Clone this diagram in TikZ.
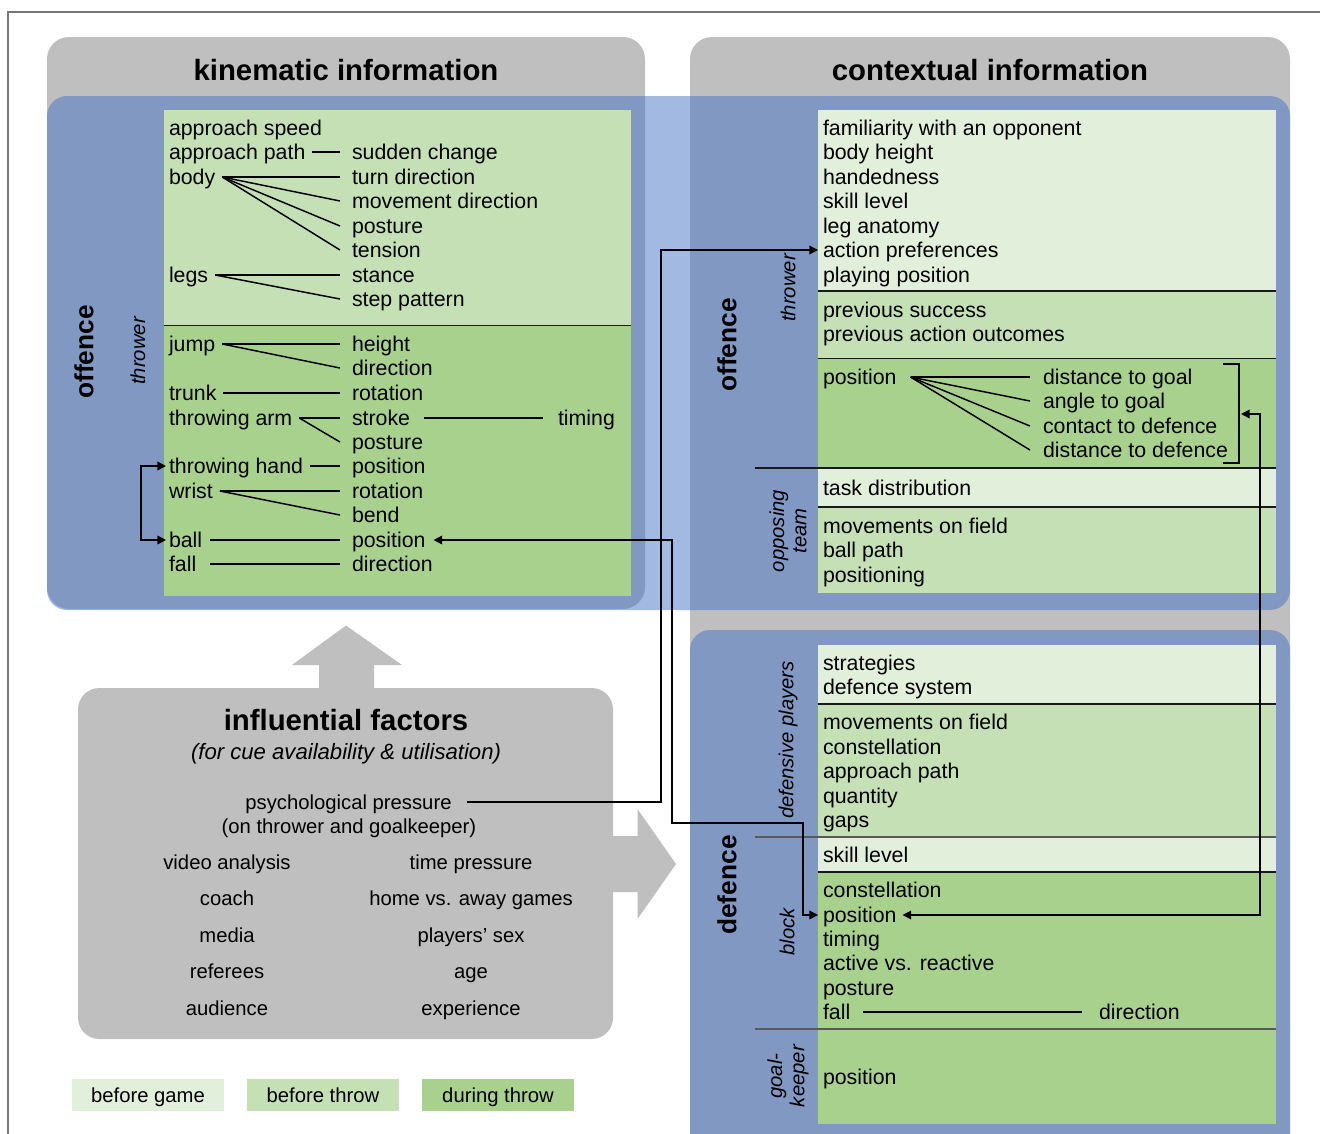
\documentclass[tikz,border=0pt]{standalone}
\usepackage{fontspec}
\setmainfont{Liberation Sans}
\usetikzlibrary{arrows.meta,calc}

\definecolor{pgrey}{RGB}{191,191,191}
\definecolor{gA}{RGB}{226,239,218}
\definecolor{gB}{RGB}{197,224,180}
\definecolor{gC}{RGB}{169,209,142}
\definecolor{bandblue}{RGB}{69,115,197}
\definecolor{framegrey}{RGB}{120,120,120}

\newcommand\fbody{\fontsize{16}{19}\selectfont}
\newcommand\ffac{\fontsize{15.2}{18}\selectfont}
\newcommand\ftitle{\fontsize{22}{26}\selectfont\bfseries}
\newcommand\fside{\fontsize{19.7}{23}\selectfont\bfseries}
\newcommand\fsub{\fontsize{15.2}{16.8}\selectfont\itshape}
\newcommand\fparen{\fontsize{16.6}{20}\selectfont\itshape}

\tikzset{
  txt/.style={anchor=west, inner sep=0pt, outer sep=0pt, text height=14pt, text depth=2.2pt, font=\fbody},
  fac/.style={anchor=center, inner sep=0pt, outer sep=0pt, text height=13.6pt, text depth=3pt, font=\ffac},
  link/.style={line width=1.1pt, black},
  arr/.style={link, -{Triangle[length=6.5pt,width=6.5pt]}},
  both/.style={link, {Triangle[length=6.5pt,width=6.5pt]}-{Triangle[length=6.5pt,width=6.5pt]}},
  sepline/.style={line width=1.4pt, black!90},
  thinsep/.style={line width=0.8pt, black!65},
  sidelbl/.style={rotate=90, font=\fside, inner sep=0pt},
  sublbl/.style={rotate=90, font=\fsub, inner sep=0pt, align=center},
  legendbox/.style={inner sep=0pt, minimum width=114pt, minimum height=24pt, text height=13.6pt, text depth=3pt, font=\ffac}
}

\begin{document}
\begin{tikzpicture}[x=0.75pt, y=-0.75pt]
\useasboundingbox (0,0) rectangle (1320,1133);

% frame
\draw[framegrey, line width=0.8pt] (8,1140) -- (8,12) -- (1330,12);

% grey panels
\fill[pgrey, rounded corners=16.5pt] (47,37) rectangle (645,609);
\fill[pgrey, rounded corners=16.5pt] (690,37) rectangle (1290,1180);

% blue bands
\fill[bandblue, fill opacity=0.5, rounded corners=15pt] (47,96) rectangle (1290,610);
\fill[bandblue, fill opacity=0.5, rounded corners=15pt] (690,630) rectangle (1290,1180);

% titles
\node[anchor=base, font=\ftitle, inner sep=0pt] (kin) at (346,80) {kinematic information};
\node[anchor=base, font=\ftitle, inner sep=0pt] (ctx) at (990,80) {contextual information};

% kinematic green boxes
\fill[gB] (164,110) rectangle (631,325.5);
\fill[gC] (164,325.5) rectangle (631,596);
\draw[sepline] (164,325.5) -- (631,325.5);

% contextual offence boxes
\fill[gA] (818,110) rectangle (1276,291);
\fill[gB] (818,291) rectangle (1276,358.5);
\fill[gC] (818,358.5) rectangle (1276,468);
\fill[gA] (818,468) rectangle (1276,507);
\fill[gB] (818,507) rectangle (1276,593);
\draw[sepline] (818,291) -- (1276,291);
\draw[sepline] (818,358.5) -- (1276,358.5);
\draw[sepline] (755,468) -- (1276,468);
\draw[sepline] (818,507) -- (1276,507);

% defence boxes
\fill[gA] (818,645) rectangle (1276,704);
\fill[gB] (818,704) rectangle (1276,837);
\fill[gA] (818,837) rectangle (1276,872);
\fill[gC] (818,872) rectangle (1276,1124);
\draw[sepline] (818,704) -- (1276,704);
\draw[thinsep] (755,837) -- (1276,837);
\draw[sepline] (818,872) -- (1276,872);
\draw[thinsep] (755,1029) -- (1276,1029);

% side labels
\node[sidelbl] (off1) at (84,352) {offence};
\node[sublbl] (thr1) at (138,351) {thrower};
\node[sidelbl] (off2) at (727,345) {offence};
\node[sublbl] (thr2) at (788,288) {thrower};
\node[sublbl] (opp) at (788,531) {opposing\\team};
\node[sublbl] (dp) at (788,740) {defensive players};
\node[sidelbl] (def) at (727,885) {defence};
\node[sublbl] (blk) at (787,932) {block};
\node[sublbl] (gk) at (788,1076) {goal-\\keeper};

% kinematic texts
\node[txt] (k1) at (169,128) {approach speed};
\node[txt] (k2) at (169,152) {approach path};
\node[txt] (k2a) at (352,152) {sudden change};
\node[txt] (k3) at (169,177) {body};
\node[txt] (k3a) at (352,177) {turn direction};
\node[txt] (k3b) at (352,201) {movement direction};
\node[txt] (k3c) at (352,226) {posture};
\node[txt] (k3d) at (352,250) {tension};
\node[txt] (k4) at (169,275) {legs};
\node[txt] (k4a) at (352,275) {stance};
\node[txt] (k4b) at (352,299) {step pattern};
\node[txt] (k5) at (169,344) {jump};
\node[txt] (k5a) at (352,344) {height};
\node[txt] (k5b) at (352,368) {direction};
\node[txt] (k6) at (169,393) {trunk};
\node[txt] (k6a) at (352,393) {rotation};
\node[txt] (k7) at (169,418) {throwing arm};
\node[txt] (k7a) at (352,418) {stroke};
\node[txt] (k7b) at (352,442) {posture};
\node[txt] (k7c) at (558,418) {timing};
\node[txt] (k8) at (169,466) {throwing hand};
\node[txt] (k8a) at (352,466) {position};
\node[txt] (k9) at (169,491) {wrist};
\node[txt] (k9a) at (352,491) {rotation};
\node[txt] (k9b) at (352,515) {bend};
\node[txt] (k10) at (169,540) {ball};
\node[txt] (k10a) at (352,540) {position};
\node[txt] (k11) at (169,564) {fall};
\node[txt] (k11a) at (352,564) {direction};

% kinematic connectors
\draw[link] ($(k2.east)+(7,0)$) -- ($(k2a.west)+(-12,0)$);
\coordinate (k3o) at ($(k3.east)+(7,0)$);
\foreach \t in {k3a,k3b,k3c,k3d} \draw[link] (k3o) -- ($(\t.west)+(-12,0)$);
\coordinate (k4o) at ($(k4.east)+(7,0)$);
\foreach \t in {k4a,k4b} \draw[link] (k4o) -- ($(\t.west)+(-12,0)$);
\coordinate (k5o) at ($(k5.east)+(7,0)$);
\foreach \t in {k5a,k5b} \draw[link] (k5o) -- ($(\t.west)+(-12,0)$);
\draw[link] ($(k6.east)+(7,0)$) -- ($(k6a.west)+(-12,0)$);
\coordinate (k7o) at ($(k7.east)+(7,0)$);
\foreach \t in {k7a,k7b} \draw[link] (k7o) -- ($(\t.west)+(-12,0)$);
\draw[link] ($(k7a.east)+(14,0)$) -- ($(k7c.west)+(-15,0)$);
\draw[link] ($(k8.east)+(7,0)$) -- ($(k8a.west)+(-12,0)$);
\coordinate (k9o) at ($(k9.east)+(7,0)$);
\foreach \t in {k9a,k9b} \draw[link] (k9o) -- ($(\t.west)+(-12,0)$);
\draw[link] ($(k10.east)+(8,0)$) -- ($(k10a.west)+(-12,0)$);
\draw[link] ($(k11.east)+(14,0)$) -- ($(k11a.west)+(-12,0)$);
\draw[both] ($(k8.west)+(-3,0)$) -- ++(-25,0) |- ($(k10.west)+(-3,0)$);

% contextual offence texts
\node[txt] (c1) at (823,128) {familiarity with an opponent};
\node[txt] (c2) at (823,152) {body height};
\node[txt] (c3) at (823,177) {handedness};
\node[txt] (c4) at (823,201) {skill level};
\node[txt] (c5) at (823,226) {leg anatomy};
\node[txt] (c6) at (823,250) {action preferences};
\node[txt] (c7) at (823,275) {playing position};
\node[txt] (c8) at (823,310) {previous success};
\node[txt] (c9) at (823,334) {previous action outcomes};
\node[txt] (c10) at (823,377) {position};
\node[txt] (c10a) at (1043,377) {distance to goal};
\node[txt] (c10b) at (1043,401) {angle to goal};
\node[txt] (c10c) at (1043,426) {contact to defence};
\node[txt] (c10d) at (1043,450) {distance to defence};
\node[txt] (c11) at (823,488) {task distribution};
\node[txt] (c12) at (823,526) {movements on field};
\node[txt] (c13) at (823,550) {ball path};
\node[txt] (c14) at (823,575) {positioning};

\coordinate (c10o) at ($(c10.east)+(14,0)$);
\foreach \t in {c10a,c10b,c10c,c10d} \draw[link] (c10o) -- ($(\t.west)+(-13,0)$);
\draw[link] (1223,364) -- (1239,364) -- (1239,463) -- (1223,463);
\coordinate (brk) at (1241,414);

% defence texts
\node[txt] (d1) at (823,663) {strategies};
\node[txt] (d2) at (823,687) {defence system};
\node[txt] (d3) at (823,722) {movements on field};
\node[txt] (d4) at (823,747) {constellation};
\node[txt] (d5) at (823,771) {approach path};
\node[txt] (d6) at (823,796) {quantity};
\node[txt] (d7) at (823,820) {gaps};
\node[txt] (d8) at (823,855) {skill level};
\node[txt] (d9) at (823,890) {constellation};
\node[txt] (d10) at (823,915) {position};
\node[txt] (d11) at (823,939) {timing};
\node[txt] (d12) at (823,963) {active vs. reactive};
\node[txt] (d13) at (823,988) {posture};
\node[txt] (d14) at (823,1012) {fall};
\node[txt] (d14a) at (1099,1012) {direction};
\node[txt] (d15) at (823,1077) {position};
\draw[link] ($(d14.east)+(13,0)$) -- ($(d14a.west)+(-17,0)$);

% influential factors
\fill[pgrey, rounded corners=16pt] (78,688) rectangle (613,1039);
\fill[pgrey] (319,690) -- (319,665) -- (292,665) -- (346,625.5) -- (402,665) -- (374,665) -- (374,690) -- cycle;
\fill[pgrey] (610,836) -- (637.5,836) -- (637.5,809) -- (676,864) -- (637.5,919) -- (637.5,892) -- (610,892) -- cycle;
\node[anchor=base, font=\ftitle, inner sep=0pt] (inf) at (346,730) {influential factors};
\node[anchor=base, font=\fparen, inner sep=0pt] (infs) at (346,759) {(for cue availability \& utilisation)};
\node[fac] (psy) at (348.5,802) {psychological pressure};
\node[fac] (psyb) at (349,826) {(on thrower and goalkeeper)};
\node[fac] (f1) at (227,862) {video analysis};
\node[fac] (f2) at (227,898) {coach};
\node[fac] (f3) at (227,935) {media};
\node[fac] (f4) at (227,971) {referees};
\node[fac] (f5) at (227,1008) {audience};
\node[fac] (g1) at (471,862) {time pressure};
\node[fac] (g2) at (471,898) {home vs. away games};
\node[fac] (g3) at (471,935) {players’ sex};
\node[fac] (g4) at (471,971) {age};
\node[fac] (g5) at (471,1008) {experience};

% legend
\node[legendbox, fill=gA] (l1) at (148,1095) {before game};
\node[legendbox, fill=gB] (l2) at (323,1095) {before throw};
\node[legendbox, fill=gC] (l3) at (498,1095) {during throw};

% long connectors
\draw[arr] ($(psy.east)+(15,0)$) -| (661,250) -- ($(c6.west)+(-5,0)$);
\draw[both] ($(k10a.east)+(8,0)$) -| (672,823) -| (803,915) -- ($(d10.west)+(-5,0)$);
\draw[both] ($(d10.east)+(6,0)$) -| (1260,414) -- (brk);
\end{tikzpicture}
\end{document}
